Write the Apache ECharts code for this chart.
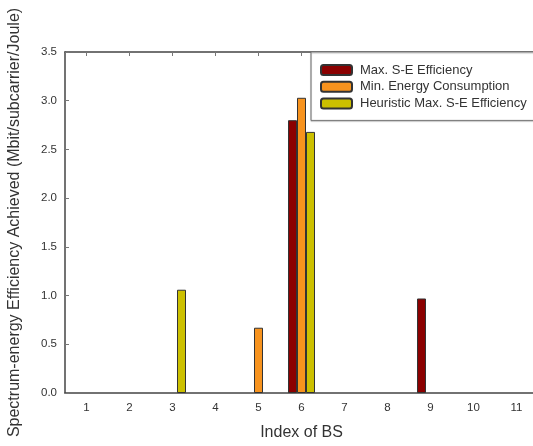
<!DOCTYPE html>
<html><head><meta charset="utf-8">
<script src="https://cdn.jsdelivr.net/npm/echarts@6/dist/echarts.min.js"></script>
<style>html,body{margin:0;padding:0;background:#fff}#c{width:533px;height:446px}</style>
</head><body><div id="c"></div>
<script>
const categories = ['1','2','3','4','5','6','7','8','9','10','11'];
const yTicks = [0,0.5,1.0,1.5,2.0,2.5,3.0,3.5];
const seriesNames = ['Max. S-E Efficiency','Min. Energy Consumption','Heuristic Max. S-E Efficiency'];
const maxSE = [null,null,null,null,null,2.80,null,null,0.97,null,null];
const minEnergy = [null,null,null,null,0.67,3.03,null,null,null,null,null];
const heuristic = [null,null,1.06,null,null,2.68,null,null,null,null,null];
const colors = ['#8B0000','#F7931E','#CCC000'];

const font = 'Liberation Sans, Arial, sans-serif';
const axisCol = '#444';
const chart = echarts.init(document.getElementById('c'));
const mkSeries = (name, data, color) => ({
  name, type:'bar', data, barWidth:9, barGap:'0%',
  itemStyle:{color, borderColor:'#333', borderWidth:1}
});
chart.setOption({
  animation:false,
  backgroundColor:'#fff',
  grid:{left:65, width:473, top:52, height:341, containLabel:false, outerBoundsMode:'none'},
  legend:{
    data:seriesNames, orient:'vertical', left:311, top:52,
    padding:[11,20,10,9], itemWidth:31, itemHeight:10, itemGap:2.7,
    backgroundColor:'#fff', borderColor:'#777', borderWidth:1,
    shadowColor:'rgba(0,0,0,0.25)', shadowOffsetX:0, shadowOffsetY:1, shadowBlur:1,
    textStyle:{fontFamily:font, fontSize:13, color:'#333', lineHeight:14, padding:[0,0,0,3]},
    selectedMode:false
  },
  xAxis:[{
    type:'category', data:categories, position:'bottom',
    axisLine:{lineStyle:{color:axisCol, width:1.5}},
    axisTick:{inside:true, alignWithLabel:true, length:4, lineStyle:{color:'#777'}},
    axisLabel:{fontFamily:font, fontSize:11.5, color:'#333', margin:9},
    name:'Index of BS', nameLocation:'middle', nameGap:32,
    nameTextStyle:{fontFamily:font, fontSize:16, color:'#333'}
  },{
    type:'category', data:categories, position:'top',
    axisLine:{show:true, lineStyle:{color:axisCol, width:1.5}},
    axisTick:{show:true, inside:true, alignWithLabel:true, length:4, lineStyle:{color:'#777'}},
    axisLabel:{show:false}
  }],
  yAxis:[{
    type:'value', min:0, max:3.5, interval:0.5,
    axisLine:{show:true, lineStyle:{color:axisCol, width:1.5}},
    axisTick:{show:true, inside:true, length:4, lineStyle:{color:'#777'}},
    splitLine:{show:false},
    axisLabel:{fontFamily:font, fontSize:11.5, color:'#333', margin:8, formatter:v=>v.toFixed(1)},
    name:'Spectrum-energy Efficiency Achieved (Mbit/subcarrier/Joule)',
    nameLocation:'middle', nameGap:42,
    nameTextStyle:{fontFamily:font, fontSize:16, color:'#333'}
  }],
  series:[
    mkSeries(seriesNames[0], maxSE, colors[0]),
    mkSeries(seriesNames[1], minEnergy, colors[1]),
    mkSeries(seriesNames[2], heuristic, colors[2])
  ]
});
</script></body></html>
